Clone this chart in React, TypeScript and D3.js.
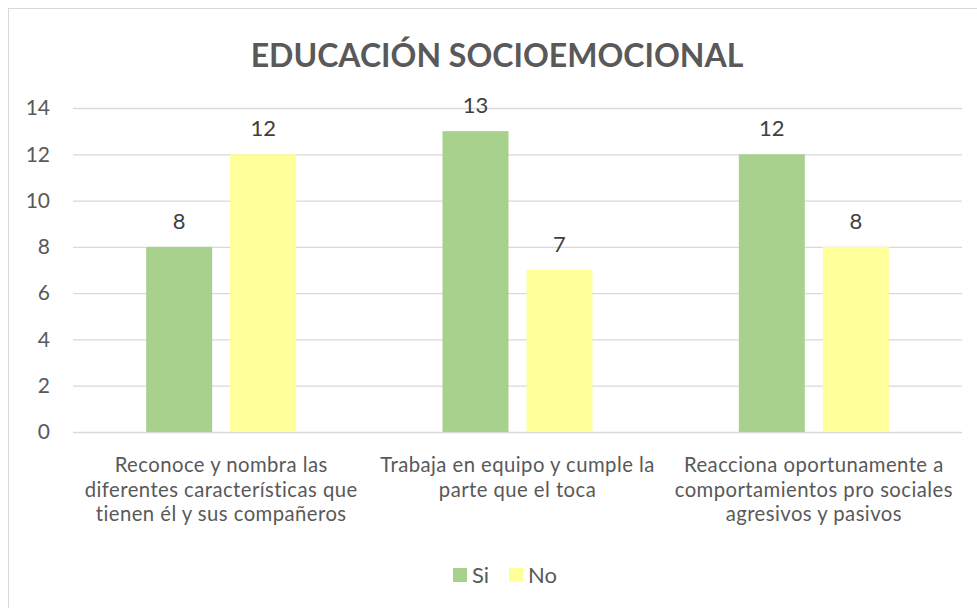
import React, { useEffect, useRef } from "react";
import * as d3 from "d3";

const categories = [
  ["Reconoce y nombra las", "diferentes características que", "tienen él y sus compañeros"],
  ["Trabaja en equipo y cumple la", "parte que el toca"],
  ["Reacciona oportunamente a", "comportamientos pro sociales", "agresivos y pasivos"]
];
const seriesNames = ["Si", "No"];
const si = [8, 13, 12];
const no = [12, 7, 8];
const yTicks = [0, 2, 4, 6, 8, 10, 12, 14];
const colors = ["#A9D18E", "#FFFF99"];

const W = 977;
const H = 608;
const FONT = "Lato, 'Open Sans', sans-serif";
const TEXT = "#595959";

const App = () => {
  const svgRef = useRef<SVGSVGElement>(null);

  useEffect(() => {
    const svg = d3.select(svgRef.current);
    svg.selectAll("*").remove();

    const left = 73, right = 962, top = 108, bottom = 432;

    svg.append("rect")
      .attr("x", 8.5).attr("y", 8.5)
      .attr("width", W).attr("height", H)
      .attr("fill", "white").attr("stroke", "#D9D9D9");

    svg.append("text")
      .attr("x", 497).attr("y", 67)
      .attr("text-anchor", "middle")
      .attr("font-family", FONT).attr("font-weight", "bold")
      .attr("font-size", 32).attr("fill", TEXT)
      .text("EDUCACIÓN SOCIOEMOCIONAL");

    const y = d3.scaleLinear().domain([0, 14]).range([bottom, top]);
    const x0 = d3.scaleBand().domain(d3.range(categories.length).map(String)).range([left, right]);
    const bw = x0.bandwidth();
    const x1 = d3.scaleBand().domain(seriesNames)
      .range([(bw - 150) / 2, (bw + 150) / 2]).paddingInner(18 / 84);

    const grid = svg.append("g");
    grid.selectAll("line").data(yTicks).join("line")
      .attr("x1", left).attr("x2", right)
      .attr("y1", d => y(d) + 0.5).attr("y2", d => y(d) + 0.5)
      .attr("stroke", "#D9D9D9").attr("stroke-width", 1.3);

    const yAxis = d3.axisLeft(y).tickValues(yTicks).tickSize(0).tickPadding(0);
    const ya = svg.append("g").attr("transform", `translate(50,0)`).call(yAxis);
    ya.select(".domain").remove();
    ya.selectAll("text")
      .attr("font-family", FONT).attr("font-size", 21).attr("fill", TEXT);

    const data = [si, no];
    const groups = svg.append("g");
    categories.forEach((_, ci) => {
      const g = groups.append("g").attr("transform", `translate(${x0(String(ci))},0)`);
      seriesNames.forEach((s, si2) => {
        const v = data[si2][ci];
        g.append("rect")
          .attr("x", x1(s)!).attr("width", x1.bandwidth())
          .attr("y", y(v)).attr("height", y(0) - y(v))
          .attr("fill", colors[si2]);
        g.append("text")
          .attr("x", x1(s)! + x1.bandwidth() / 2).attr("y", y(v) - 18)
          .attr("text-anchor", "middle")
          .attr("font-family", FONT).attr("font-size", 22).attr("fill", "#404040")
          .text(v);
      });
    });

    // one text per line so the lines keep apart
    const cats = svg.append("g");
    categories.forEach((lines, ci) => {
      const cx = x0(String(ci))! + x0.bandwidth() / 2;
      lines.forEach((ln, li) => {
        cats.append("text")
          .attr("x", cx).attr("y", 472 + li * 24.5)
          .attr("text-anchor", "middle")
          .attr("font-family", FONT).attr("font-size", 20.3)
          .attr("letter-spacing", 0.45).attr("fill", TEXT)
          .text(ln);
      });
    });

    const legend = svg.append("g");
    const items = [{ x: 453, tx: 472 }, { x: 509, tx: 528 }];
    seriesNames.forEach((s, i) => {
      legend.append("rect")
        .attr("x", items[i].x).attr("y", 568)
        .attr("width", 14).attr("height", 14)
        .attr("fill", colors[i]);
      legend.append("text")
        .attr("x", items[i].tx).attr("y", 583)
        .attr("font-family", FONT).attr("font-size", 22).attr("fill", TEXT)
        .text(s);
    });
  }, []);

  return (
    <svg ref={svgRef} width={W} height={H}
      style={{ position: "absolute", left: 0, top: 0, background: "white" }} />
  );
};

export default App;
